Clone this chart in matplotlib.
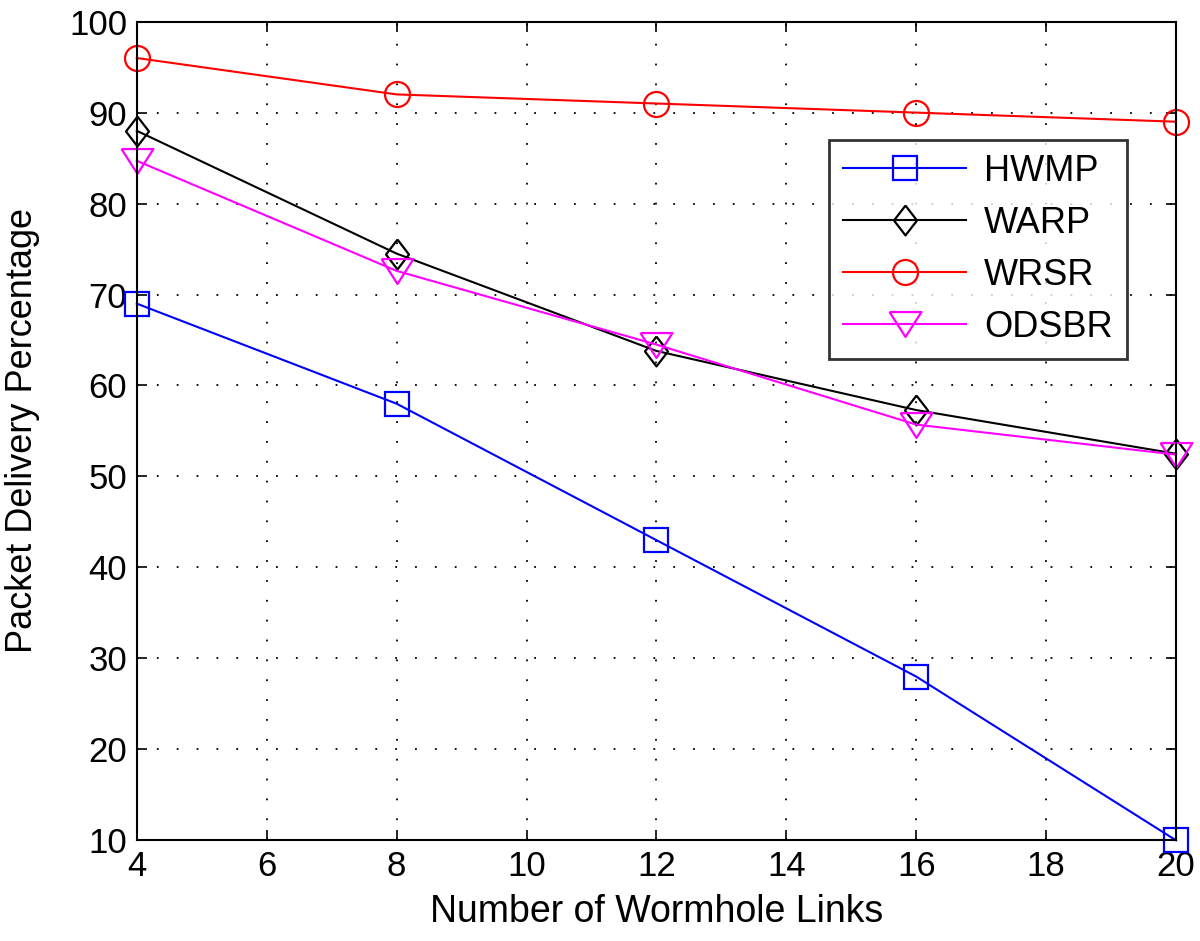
import matplotlib.pyplot as plt

plt.rcParams['font.family'] = ['Liberation Sans', 'DejaVu Sans']

links = [4, 8, 12, 16, 20]
hwmp = [69, 58, 43, 28, 10]
warp = [88, 74.5, 63.8, 57.3, 52.5]
wrsr = [96, 92, 91, 90, 89]
odsbr = [84.7, 72.6, 64.5, 55.7, 52.4]

# MATLAB-style markers (diamond a bit narrow, triangle a bit flat)
diamond = [(0, 1), (0.77, 0), (0, -1), (-0.77, 0), (0, 1)]
tri_down = [(-1, 0.78), (1, 0.78), (0, -0.78), (-1, 0.78)]

fig = plt.figure(figsize=(12, 9.41), dpi=100)
ax = fig.add_axes([0.114, 0.107, 0.866, 0.870])

style = dict(markerfacecolor='none', markeredgewidth=1.6, linewidth=1.5, clip_on=False)
ax.plot(links, hwmp, color='#0000ff', marker='s', markersize=17, label='HWMP', **style)
ax.plot(links, warp, color='black', marker=diamond, markersize=21.5, label='WARP', **style)
ax.plot(links, wrsr, color='#ff0000', marker='o', markersize=18, label='WRSR', **style)
ax.plot(links, odsbr, color='#ff00ff', marker=tri_down, markersize=23, label='ODSBR', **style)

ax.set_xlim(4, 20)
ax.set_ylim(10, 100)
ax.set_xticks(range(4, 21, 2))
ax.set_yticks(range(10, 101, 10))
ax.grid(True, color='black', linestyle=(0, (1, 10)), linewidth=1.3)
ax.tick_params(direction='in', length=7, width=1.2, labelsize=25, top=True, right=True, pad=7)
for s in ax.spines.values():
    s.set_linewidth(1.5)

ax.set_xlabel('Number of Wormhole Links', fontsize=27, labelpad=8)
ax.set_ylabel('Packet Delivery Percentage', fontsize=26, labelpad=21)

leg = ax.legend(loc='upper right', bbox_to_anchor=(0.953, 0.856), borderaxespad=0, fontsize=26,
                frameon=True, fancybox=False, edgecolor='black', handlelength=3.4,
                borderpad=0.4, labelspacing=0.47, handletextpad=0.5)
leg.get_frame().set_linewidth(2)

fig.savefig('out.png', dpi=100)
